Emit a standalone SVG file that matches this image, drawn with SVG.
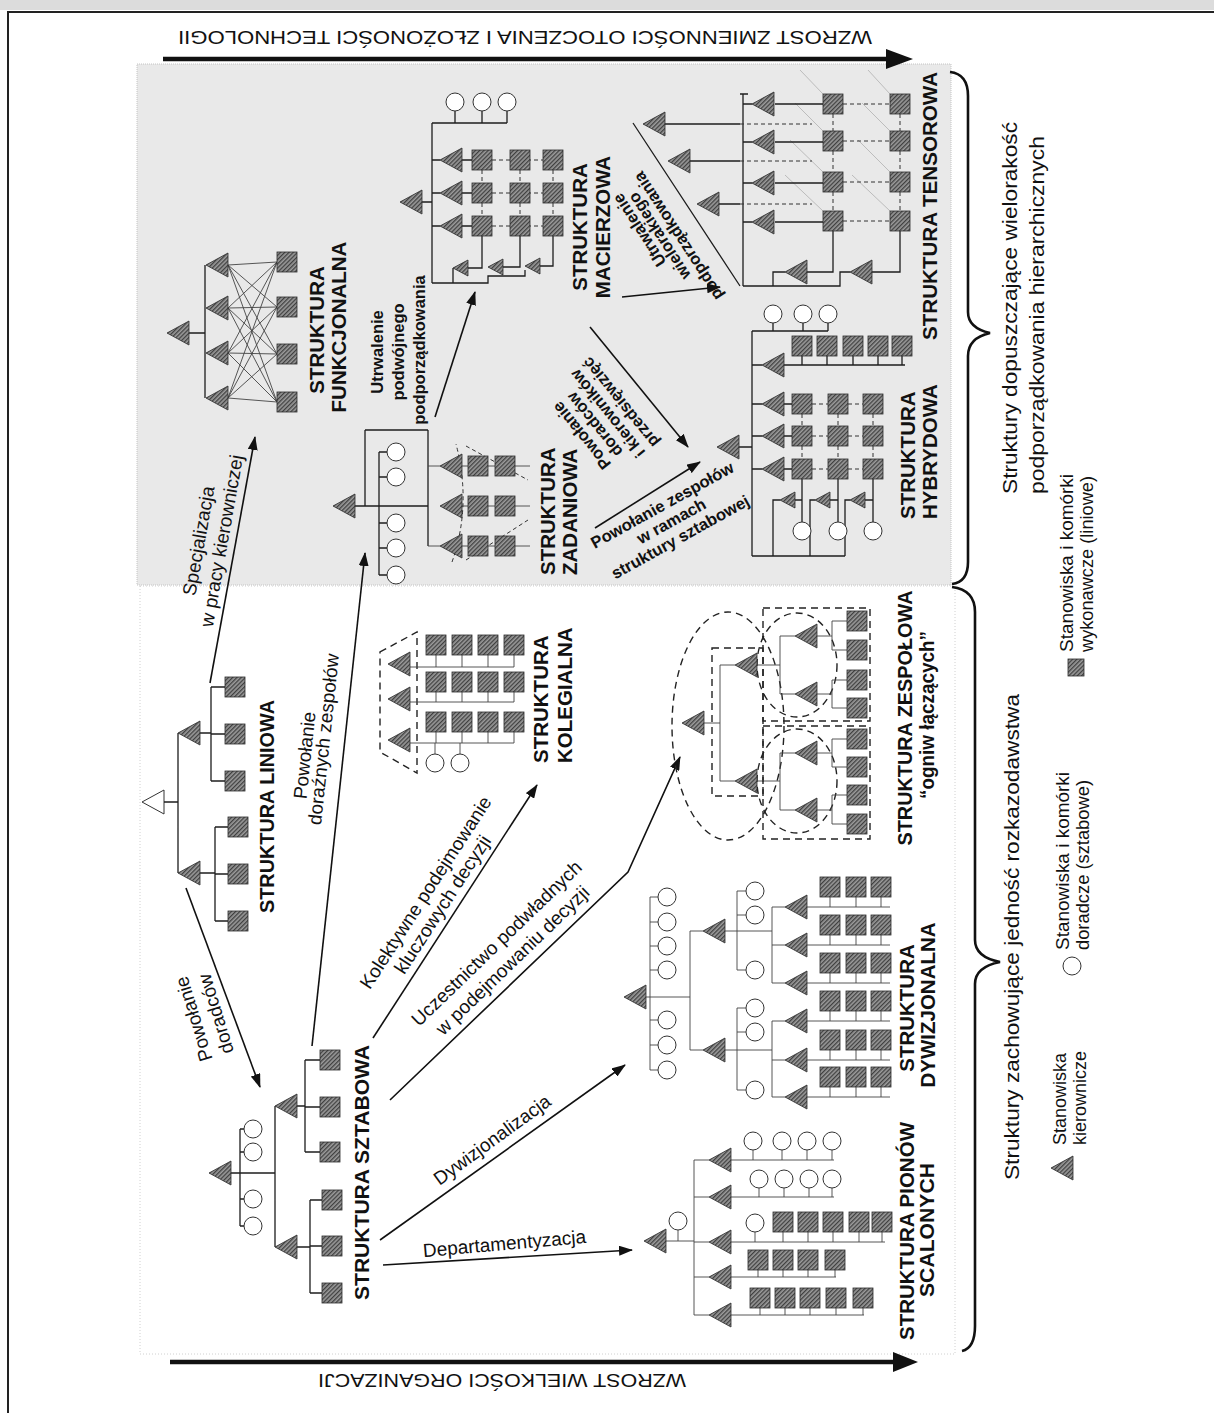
<svg xmlns="http://www.w3.org/2000/svg" width="1214" height="1413" viewBox="0 0 1214 1413">
<style>
.f{fill:url(#hp);stroke:#2b2b2b;stroke-width:0.8}
.c{fill:#fff;stroke:#333;stroke-width:1}
.l{fill:none;stroke:#1e1e1e;stroke-width:1.3}
.lt{fill:none;stroke:#444;stroke-width:0.9}
.d{fill:none;stroke:#222;stroke-width:1.4;stroke-dasharray:7 5}
.dd{fill:none;stroke:#333;stroke-width:1;stroke-dasharray:4 3}
.a{fill:none;stroke:#111;stroke-width:1.6}
.tb{font-family:"Liberation Sans",Arial,sans-serif;font-weight:bold;font-size:20.5px;fill:#111}
.tl{font-family:"Liberation Sans",Arial,sans-serif;font-size:19px;fill:#111}
.tlb{font-family:"Liberation Sans",Arial,sans-serif;font-size:16.5px;font-weight:bold;fill:#111}
.tn{font-family:"Liberation Sans",Arial,sans-serif;font-size:18px;fill:#111}
.ts{font-family:"Liberation Sans",Arial,sans-serif;font-size:20px;fill:#111}
.tg{font-family:"Liberation Sans",Arial,sans-serif;font-size:18px;fill:#111}
</style>
<defs>
<pattern id="hp" patternUnits="userSpaceOnUse" width="3" height="3" patternTransform="rotate(45)"><rect width="3" height="3" fill="#9a9a9a"/><rect width="1.3" height="3" fill="#404040"/></pattern>
<path id="T" class="f" d="M0,0 L22,-12 L22,12 Z"/>
<path id="t" class="f" d="M0,0 L15,-8 L15,8 Z"/>
<rect id="S" class="f" x="-10" y="-10" width="20" height="20"/>
<circle id="C" class="c" r="9"/>
<marker id="ar" markerUnits="userSpaceOnUse" viewBox="0 0 14 10" refX="13" refY="5" markerWidth="14" markerHeight="10" orient="auto"><path d="M0,0 L14,5 L0,10 Z" fill="#111"/></marker>
</defs>

<rect x="0" y="0" width="1214" height="1413" fill="#fff"/>
<rect x="0" y="0" width="1214" height="10" fill="#dcdcdc"/>
<path d="M8,1413 V12 H1214" fill="none" stroke="#222" stroke-width="2"/>
<rect x="137" y="64" width="814" height="521" fill="#e9e9e9" stroke="#c4c4c4" stroke-dasharray="1 1"/>
<rect x="140" y="586" width="815" height="768" fill="none" stroke="#d0d0d0" stroke-dasharray="1 2"/>

<g id="axis-top">
<line x1="163" y1="59" x2="890" y2="59" stroke="#111" stroke-width="4.5"/>
<path d="M913,59 L886,49 L886,69 Z" fill="#111"/>
<text class="tn" transform="rotate(180 525 37)" x="525" y="43" text-anchor="middle" textLength="694" lengthAdjust="spacingAndGlyphs">WZROST ZMIENNOŚCI OTOCZENIA I ZŁOŻONOŚCI TECHNOLOGII</text>
</g>
<g id="axis-bottom">
<line x1="170" y1="1362" x2="896" y2="1362" stroke="#111" stroke-width="4.5"/>
<path d="M918,1362 L893,1352 L893,1372 Z" fill="#111"/>
<text class="tn" transform="rotate(180 502 1380)" x="502" y="1386" text-anchor="middle" textLength="368" lengthAdjust="spacingAndGlyphs">WZROST WIELKOŚCI ORGANIZACJI</text>
</g>

<g id="braces" fill="none" stroke="#111" stroke-width="2.6">
<path d="M950,72 Q968,74 968,96 L968,312 Q968,328 990,333 Q968,338 968,356 L968,562 Q968,582 952,584"/>
<path d="M952,587 Q975,590 975,612 L975,940 Q975,957 1000,962 Q975,967 975,984 L975,1326 Q975,1348 962,1351"/>
</g>

<g id="side-labels">
<text class="ts" transform="translate(1017,494) rotate(-90)" textLength="372" lengthAdjust="spacingAndGlyphs">Struktury dopuszczające wielorakość</text>
<text class="ts" transform="translate(1044,494) rotate(-90)" textLength="358" lengthAdjust="spacingAndGlyphs">podporządkowania hierarchicznych</text>
<text class="ts" transform="translate(1019,1180) rotate(-90)" textLength="486" lengthAdjust="spacingAndGlyphs">Struktury zachowujące jedność rozkazodawstwa</text>
</g>

<g id="legend">
<use href="#T" x="1051" y="1168"/>
<text class="tg" transform="translate(1066,1145) rotate(-90)">Stanowiska</text>
<text class="tg" transform="translate(1086,1145) rotate(-90)">kierownicze</text>
<use href="#C" x="1072" y="966"/>
<text class="tg" transform="translate(1069,950) rotate(-90)" textLength="178" lengthAdjust="spacingAndGlyphs">Stanowiska i komórki</text>
<text class="tg" transform="translate(1089,950) rotate(-90)" textLength="170" lengthAdjust="spacingAndGlyphs">doradcze (sztabowe)</text>
<rect class="f" x="1068" y="659" width="16" height="17"/>
<text class="tg" transform="translate(1073,652) rotate(-90)" textLength="178" lengthAdjust="spacingAndGlyphs">Stanowiska i komórki</text>
<text class="tg" transform="translate(1093,652) rotate(-90)" textLength="176" lengthAdjust="spacingAndGlyphs">wykonawcze (liniowe)</text>
</g>

<g id="connectors" class="a" marker-end="url(#ar)">
<path d="M186,888 L260,1087"/>
<path d="M312,1046 L365,553"/>
<path d="M210,683 L255,437"/>
<path d="M373,1038 L537,785"/>
<path d="M390,1100 L628,872 L680,757"/>
<path d="M380,1240 L625,1065"/>
<path d="M383,1265 L632,1250"/>
<path d="M435,417 L475,292"/>
<path d="M590,327 L688,447"/>
<path d="M595,528 L700,462"/>
<path d="M622,297 L720,287"/>
</g>

<g id="connector-labels">
<text class="tl" text-anchor="middle" transform="translate(200,1017) rotate(-107)">Powołanie</text>
<text class="tl" text-anchor="middle" transform="translate(222,1012) rotate(-107)">doradców</text>
<text class="tl" text-anchor="middle" transform="translate(311,756) rotate(-84)">Powołanie</text>
<text class="tl" text-anchor="middle" transform="translate(330,740) rotate(-84)">doraźnych zespołów</text>
<text class="tl" text-anchor="middle" transform="translate(205,542) rotate(-80)">Specjalizacja</text>
<text class="tl" text-anchor="middle" transform="translate(228,542) rotate(-80)">w pracy kierowniczej</text>
<text class="tl" text-anchor="middle" transform="translate(431,896) rotate(-57)">Kolektywne podejmowanie</text>
<text class="tl" text-anchor="middle" transform="translate(448,908) rotate(-57)">kluczowych decyzji</text>
<text class="tl" text-anchor="middle" transform="translate(501,948) rotate(-44)">Uczestnictwo podwładnych</text>
<text class="tl" text-anchor="middle" transform="translate(517,965) rotate(-44)">w podejmowaniu decyzji</text>
<text class="tl" text-anchor="middle" transform="translate(496,1145) rotate(-36)">Dywizjonalizacja</text>
<text class="tl" text-anchor="middle" transform="translate(505,1250) rotate(-5)">Departamentyzacja</text>
<text class="tlb" text-anchor="middle" transform="translate(383,352) rotate(-90)">Utrwalenie</text>
<text class="tlb" text-anchor="middle" transform="translate(404,352) rotate(-90)">podwójnego</text>
<text class="tlb" text-anchor="middle" transform="translate(425,350) rotate(-90)">podporządkowania</text>
<text class="tlb" text-anchor="middle" transform="translate(586,432) rotate(-129)">Powołanie</text>
<text class="tlb" text-anchor="middle" transform="translate(599,421) rotate(-129)">doradców</text>
<text class="tlb" text-anchor="middle" transform="translate(612,410) rotate(-129)">i kierowników</text>
<text class="tlb" text-anchor="middle" transform="translate(625,399) rotate(-129)">przedsięwzięć</text>
<text class="tlb" text-anchor="middle" transform="translate(665,510) rotate(-29)">Powołanie zespołów</text>
<text class="tlb" text-anchor="middle" transform="translate(674,526) rotate(-29)">w ramach</text>
<text class="tlb" text-anchor="middle" transform="translate(683,542) rotate(-29)">struktury sztabowej</text>
<text class="tlb" text-anchor="middle" transform="translate(644,227) rotate(-123)">Utrwalenie</text>
<text class="tlb" text-anchor="middle" transform="translate(664,233) rotate(-123)">wielorakiego</text>
<text class="tlb" text-anchor="middle" transform="translate(683,233) rotate(-123)">podporządkowania</text>
</g>

<g id="liniowa">
<path d="M142,802 L164,790 L164,814 Z" fill="#fff" stroke="#333"/>
<path class="l" d="M164,802 H178 M178,733 V873 M200,733 H211 M211,687 V781 M211,687 H225 M211,734 H225 M211,781 H225 M200,873 H215 M215,827 V921 M215,827 H228 M215,874 H228 M215,921 H228"/>
<use href="#T" x="178" y="733"/><use href="#T" x="178" y="873"/>
<use href="#S" x="235" y="687"/><use href="#S" x="235" y="734"/><use href="#S" x="235" y="781"/>
<use href="#S" x="238" y="827"/><use href="#S" x="238" y="874"/><use href="#S" x="238" y="921"/>
<text class="tb" transform="translate(274,913) rotate(-90)" textLength="213" lengthAdjust="spacingAndGlyphs">STRUKTURA LINIOWA</text>
</g>

<g id="sztabowa">
<path class="l" d="M231,1173 H275 M240,1129 V1226 M240,1129 H244 M240,1152 H244 M240,1199 H244 M240,1226 H244 M275,1106 V1247 M297,1106 H305 M305,1060 V1152 M305,1060 H320 M305,1107 H320 M305,1152 H320 M297,1247 H310 M310,1200 V1293 M310,1200 H322 M310,1246 H322 M310,1293 H322"/>
<use href="#T" x="209" y="1173"/>
<use href="#C" x="253" y="1129"/><use href="#C" x="253" y="1152"/><use href="#C" x="253" y="1199"/><use href="#C" x="253" y="1226"/>
<use href="#T" x="275" y="1106"/><use href="#T" x="275" y="1247"/>
<use href="#S" x="330" y="1060"/><use href="#S" x="330" y="1107"/><use href="#S" x="330" y="1152"/>
<use href="#S" x="332" y="1200"/><use href="#S" x="332" y="1246"/><use href="#S" x="332" y="1293"/>
<text class="tb" transform="translate(369,1300) rotate(-90)" textLength="255" lengthAdjust="spacingAndGlyphs">STRUKTURA SZTABOWA</text>
</g>

<g id="pionow-scalonych">
<path class="lt" d="M666,1241 H694 M678,1230 V1241 M694,1160 V1315 M694,1160 H709 M694,1197 H709 M694,1242 H709 M694,1277 H709 M694,1315 H709"/>
<path class="lt" d="M731,1160 H834 M753,1150 V1160 M782,1150 V1160 M807,1150 V1160 M832,1150 V1160 M731,1197 H834 M759,1188 V1197 M784,1188 V1197 M809,1188 V1197 M832,1188 V1197 M731,1242 H885 M755,1232 V1242 M783,1232 V1242 M808,1232 V1242 M833,1232 V1242 M859,1232 V1242 M882,1232 V1242 M731,1277 H836 M758,1270 V1277 M783,1270 V1277 M808,1270 V1277 M835,1270 V1277 M731,1315 H864 M760,1308 V1315 M785,1308 V1315 M810,1308 V1315 M836,1308 V1315 M863,1308 V1315"/>
<use href="#T" x="644" y="1241"/><use href="#C" x="678" y="1221"/>
<use href="#T" x="709" y="1160"/><use href="#T" x="709" y="1197"/><use href="#T" x="709" y="1242"/><use href="#T" x="709" y="1277"/><use href="#T" x="709" y="1315"/>
<use href="#C" x="753" y="1141"/><use href="#C" x="782" y="1141"/><use href="#C" x="807" y="1141"/><use href="#C" x="832" y="1141"/>
<use href="#C" x="759" y="1179"/><use href="#C" x="784" y="1179"/><use href="#C" x="809" y="1179"/><use href="#C" x="832" y="1179"/>
<use href="#C" x="755" y="1223"/><use href="#S" x="783" y="1222"/><use href="#S" x="808" y="1222"/><use href="#S" x="833" y="1222"/><use href="#S" x="859" y="1222"/><use href="#S" x="882" y="1222"/>
<use href="#S" x="758" y="1260"/><use href="#S" x="783" y="1260"/><use href="#S" x="808" y="1260"/><use href="#S" x="835" y="1260"/>
<use href="#S" x="760" y="1298"/><use href="#S" x="785" y="1298"/><use href="#S" x="810" y="1298"/><use href="#S" x="836" y="1298"/><use href="#S" x="863" y="1298"/>
<text class="tb" text-anchor="middle" transform="translate(914,1231) rotate(-90)" textLength="218" lengthAdjust="spacingAndGlyphs">STRUKTURA PIONÓW</text>
<text class="tb" text-anchor="middle" transform="translate(934,1230) rotate(-90)" textLength="134" lengthAdjust="spacingAndGlyphs">SCALONYCH</text>
</g>

<g id="dywizjonalna">
<path class="lt" d="M644,997 H690 M650,897 V1070 M650,897 H658 M650,922 H658 M650,946 H658 M650,970 H658 M650,1020 H658 M650,1045 H658 M650,1070 H658 M690,931 V1050 M690,931 H703 M690,1050 H703"/>
<path class="lt" d="M725,931 H772 M737,891 V970 M737,891 H746 M737,915 H746 M737,970 H746 M772,907 V983 M772,907 H785 M772,945 H785 M772,983 H785"/>
<path class="lt" d="M725,1050 H772 M737,1008 V1090 M737,1008 H746 M737,1032 H746 M737,1090 H746 M772,1021 V1097 M772,1021 H785 M772,1060 H785 M772,1097 H785"/>
<path class="lt" d="M807,907 H890 M807,945 H890 M807,983 H890 M807,1021 H890 M807,1060 H890 M807,1097 H890 M830,897 V907 M856,897 V907 M881,897 V907 M830,935 V945 M856,935 V945 M881,935 V945 M830,973 V983 M856,973 V983 M881,973 V983 M830,1011 V1021 M856,1011 V1021 M881,1011 V1021 M830,1050 V1060 M856,1050 V1060 M881,1050 V1060 M830,1087 V1097 M856,1087 V1097 M881,1087 V1097"/>
<use href="#T" x="624" y="997"/>
<use href="#C" x="667" y="897"/><use href="#C" x="667" y="922"/><use href="#C" x="667" y="946"/><use href="#C" x="667" y="970"/><use href="#C" x="667" y="1020"/><use href="#C" x="667" y="1045"/><use href="#C" x="667" y="1070"/>
<use href="#T" x="703" y="931"/><use href="#T" x="703" y="1050"/>
<use href="#C" x="755" y="891"/><use href="#C" x="755" y="915"/><use href="#C" x="755" y="970"/>
<use href="#C" x="755" y="1008"/><use href="#C" x="755" y="1032"/><use href="#C" x="755" y="1090"/>
<use href="#T" x="785" y="907"/><use href="#T" x="785" y="945"/><use href="#T" x="785" y="983"/>
<use href="#T" x="785" y="1021"/><use href="#T" x="785" y="1060"/><use href="#T" x="785" y="1097"/>
<use href="#S" x="830" y="887"/><use href="#S" x="856" y="887"/><use href="#S" x="881" y="887"/>
<use href="#S" x="830" y="925"/><use href="#S" x="856" y="925"/><use href="#S" x="881" y="925"/>
<use href="#S" x="830" y="963"/><use href="#S" x="856" y="963"/><use href="#S" x="881" y="963"/>
<use href="#S" x="830" y="1001"/><use href="#S" x="856" y="1001"/><use href="#S" x="881" y="1001"/>
<use href="#S" x="830" y="1040"/><use href="#S" x="856" y="1040"/><use href="#S" x="881" y="1040"/>
<use href="#S" x="830" y="1077"/><use href="#S" x="856" y="1077"/><use href="#S" x="881" y="1077"/>
<text class="tb" text-anchor="middle" transform="translate(914,1008) rotate(-90)">STRUKTURA</text>
<text class="tb" text-anchor="middle" transform="translate(935,1005) rotate(-90)">DYWIZJONALNA</text>
</g>

<g id="kolegialna">
<path class="d" d="M380,652 L417,632 L417,773 L380,752 Z"/>
<path class="lt" d="M410,667 H514 M410,702 H514 M410,743 H514 M436,655 V667 M462,655 V667 M488,655 V667 M514,655 V667 M436,692 V702 M462,692 V702 M488,692 V702 M514,692 V702 M436,732 V743 M462,732 V743 M488,732 V743 M514,732 V743 M435,743 V754 M460,743 V754"/>
<use href="#T" x="388" y="664"/><use href="#T" x="388" y="699"/><use href="#T" x="388" y="740"/>
<use href="#S" x="436" y="645"/><use href="#S" x="462" y="645"/><use href="#S" x="488" y="645"/><use href="#S" x="514" y="645"/>
<use href="#S" x="436" y="682"/><use href="#S" x="462" y="682"/><use href="#S" x="488" y="682"/><use href="#S" x="514" y="682"/>
<use href="#S" x="436" y="722"/><use href="#S" x="462" y="722"/><use href="#S" x="488" y="722"/><use href="#S" x="514" y="722"/>
<use href="#C" x="435" y="763"/><use href="#C" x="460" y="763"/>
<text class="tb" transform="translate(548,763) rotate(-90)">STRUKTURA</text>
<text class="tb" transform="translate(572,763) rotate(-90)">KOLEGIALNA</text>
</g>

<g id="zespolowa">
<ellipse class="d" cx="728" cy="726" rx="56" ry="114"/>
<rect class="d" x="712" y="648" width="51" height="148"/>
<rect class="d" x="763" y="608" width="107" height="113"/>
<rect class="d" x="763" y="726" width="107" height="113"/>
<ellipse class="d" cx="797" cy="665" rx="40" ry="52"/>
<ellipse class="d" cx="797" cy="781" rx="40" ry="52"/>
<path class="lt" d="M703,723 H720 M720,665 V781 M720,665 H735 M720,781 H735 M757,665 H780 M780,636 V694 M757,781 H780 M780,753 V810 M780,636 H795 M780,694 H795 M780,753 H795 M780,810 H795 M817,636 H832 M832,621 V650 M832,621 H847 M832,650 H847 M817,694 H832 M832,680 V708 M832,680 H847 M832,708 H847 M817,753 H832 M832,739 V767 M832,739 H847 M832,767 H847 M817,810 H832 M832,795 V824 M832,795 H847 M832,824 H847"/>
<use href="#T" x="682" y="723"/>
<use href="#T" x="735" y="665"/><use href="#T" x="735" y="781"/>
<use href="#T" x="795" y="636"/><use href="#T" x="795" y="694"/><use href="#T" x="795" y="753"/><use href="#T" x="795" y="810"/>
<use href="#S" x="857" y="621"/><use href="#S" x="857" y="650"/><use href="#S" x="857" y="680"/><use href="#S" x="857" y="708"/>
<use href="#S" x="857" y="739"/><use href="#S" x="857" y="767"/><use href="#S" x="857" y="795"/><use href="#S" x="857" y="824"/>
<text class="tb" text-anchor="middle" transform="translate(912,718) rotate(-90)" textLength="255" lengthAdjust="spacingAndGlyphs">STRUKTURA ZESPOŁOWA</text>
<text class="tb" text-anchor="middle" transform="translate(934,715) rotate(-90)" textLength="168" lengthAdjust="spacingAndGlyphs">“ogniw łączących”</text>
</g>

<g id="funkcjonalna">
<path class="l" d="M188,333 H205 M205,265 V398"/>
<path class="lt" d="M228,265 L277,262 M228,265 L277,307 M228,265 L277,354 M228,265 L277,402 M228,308 L277,262 M228,308 L277,307 M228,308 L277,354 M228,308 L277,402 M228,353 L277,262 M228,353 L277,307 M228,353 L277,354 M228,353 L277,402 M228,398 L277,262 M228,398 L277,307 M228,398 L277,354 M228,398 L277,402"/>
<use href="#T" x="167" y="333"/>
<use href="#T" x="206" y="265"/><use href="#T" x="206" y="308"/><use href="#T" x="206" y="353"/><use href="#T" x="206" y="398"/>
<use href="#S" x="287" y="262"/><use href="#S" x="287" y="307"/><use href="#S" x="287" y="354"/><use href="#S" x="287" y="402"/>
<text class="tb" text-anchor="middle" transform="translate(324,330) rotate(-90)">STRUKTURA</text>
<text class="tb" text-anchor="middle" transform="translate(346,327) rotate(-90)">FUNKCJONALNA</text>
</g>

<g id="zadaniowa">
<path class="l" d="M355,506 H428 M365,430 V506 M365,430 H428 M428,430 V546 M379,452 V575 M379,452 H387 M379,477 H387 M379,523 H387 M379,548 H387 M379,575 H387"/>
<path class="lt" d="M428,466 H440 M428,546 H440 M462,466 H530 M462,506 H530 M462,546 H530"/>
<path class="dd" d="M452,562 Q472,505 456,444 M466,446 L528,480 M466,560 L528,520"/>
<use href="#T" x="333" y="506"/>
<use href="#C" x="396" y="452"/><use href="#C" x="396" y="477"/><use href="#C" x="396" y="523"/><use href="#C" x="396" y="548"/><use href="#C" x="396" y="575"/>
<use href="#T" x="440" y="466"/><use href="#T" x="440" y="506"/><use href="#T" x="440" y="546"/>
<use href="#S" x="478" y="466"/><use href="#S" x="505" y="466"/><use href="#S" x="478" y="506"/><use href="#S" x="505" y="506"/><use href="#S" x="478" y="546"/><use href="#S" x="505" y="546"/>
<text class="tb" transform="translate(555,575) rotate(-90)">STRUKTURA</text>
<text class="tb" transform="translate(577,575) rotate(-90)">ZADANIOWA</text>
</g>

<g id="macierzowa">
<path class="l" d="M432,123 H507 M455,111 V123 M482,111 V123 M507,111 V123 M432,123 V283 M422,202 H432 M432,160 H440 M432,193 H440 M432,226 H440 M462,160 H472 M462,193 H472 M462,226 H472 M432,283 H488 V276 H525 V270 M453,283 V268 M468,268 H482 V236 M503,267 H520 V236 M540,266 H553 V236"/>
<path class="dd" d="M492,160 H543 M492,193 H543 M492,226 H543 M482,170 V183 M482,203 V216 M520,170 V183 M520,203 V216 M553,170 V183 M553,203 V216"/>
<use href="#C" x="455" y="102"/><use href="#C" x="482" y="102"/><use href="#C" x="507" y="102"/>
<use href="#T" x="400" y="202"/>
<use href="#T" x="440" y="160"/><use href="#T" x="440" y="193"/><use href="#T" x="440" y="226"/>
<use href="#S" x="482" y="160"/><use href="#S" x="520" y="160"/><use href="#S" x="553" y="160"/>
<use href="#S" x="482" y="193"/><use href="#S" x="520" y="193"/><use href="#S" x="553" y="193"/>
<use href="#S" x="482" y="226"/><use href="#S" x="520" y="226"/><use href="#S" x="553" y="226"/>
<use href="#t" x="453" y="268"/><use href="#t" x="488" y="267"/><use href="#t" x="525" y="266"/>
<text class="tb" text-anchor="middle" transform="translate(587,227) rotate(-90)">STRUKTURA</text>
<text class="tb" text-anchor="middle" transform="translate(610,227) rotate(-90)">MACIERZOWA</text>
</g>

<g id="tensorowa">
<path d="M823,94 L800,70 M890,94 L868,70 M823,131 L795,103 M890,131 L862,103 M823,172 L790,140 M890,172 L858,140 M823,211 L785,175 M890,211 L852,175" fill="none" stroke="#b0b0b0" stroke-width="0.8"/>
<path class="l" d="M633,123 L740,286 M740,94 H748 M743,94 V286 M743,104 H752 M743,142 H752 M743,183 H752 M743,222 H752 M775,104 H823 M775,142 H823 M775,183 H823 M775,222 H823 M743,286 H773 V272 H785 M773,286 H840 V272 H850 M807,272 H833 V231 M872,272 H900 V231 M665,124 H740 M690,161 H740 M719,204 H740"/>
<path class="dd" d="M740,124 H812 M740,161 H812 M740,204 H812 M843,104 H890 M843,141 H890 M843,182 H890 M843,221 H890 M833,114 V131 M833,151 V172 M833,192 V211 M900,114 V131 M900,151 V172 M900,192 V211"/>
<use href="#T" x="643" y="124"/><use href="#T" x="668" y="161"/><use href="#T" x="697" y="204"/>
<use href="#T" x="752" y="104"/><use href="#T" x="752" y="142"/><use href="#T" x="752" y="183"/><use href="#T" x="752" y="222"/>
<use href="#S" x="833" y="104"/><use href="#S" x="900" y="104"/><use href="#S" x="833" y="141"/><use href="#S" x="900" y="141"/>
<use href="#S" x="833" y="182"/><use href="#S" x="900" y="182"/><use href="#S" x="833" y="221"/><use href="#S" x="900" y="221"/>
<use href="#T" x="785" y="272"/><use href="#T" x="850" y="272"/>
<text class="tb" transform="translate(937,340) rotate(-90)" textLength="268" lengthAdjust="spacingAndGlyphs">STRUKTURA TENSOROWA</text>
</g>

<g id="hybrydowa">
<path class="l" d="M739,447 H752 M752,331 V556 M752,331 H828 M773,323 V331 M803,323 V331 M828,323 V331 M752,365 H762 M784,365 H905 M802,356 V365 M827,356 V365 M853,356 V365 M878,356 V365 M902,356 V365 M752,404 H762 M752,436 H762 M752,469 H762 M784,404 H792 M784,436 H792 M784,469 H792 M802,479 V522 M838,479 V522 M873,479 V522 M752,556 H845 M773,556 V500 H780 M810,556 V500 H815 M845,556 V500 H850 M795,500 H802 M830,500 H838 M865,500 H873"/>
<path class="dd" d="M812,404 H828 M848,404 H863 M812,436 H828 M848,436 H863 M812,469 H828 M848,469 H863 M802,414 V426 M802,446 V459 M838,414 V426 M838,446 V459 M873,414 V426 M873,446 V459"/>
<use href="#C" x="773" y="314"/><use href="#C" x="803" y="314"/><use href="#C" x="828" y="314"/>
<use href="#T" x="717" y="447"/>
<use href="#T" x="762" y="365"/>
<use href="#S" x="802" y="346"/><use href="#S" x="827" y="346"/><use href="#S" x="853" y="346"/><use href="#S" x="878" y="346"/><use href="#S" x="902" y="346"/>
<use href="#T" x="762" y="404"/><use href="#T" x="762" y="436"/><use href="#T" x="762" y="469"/>
<use href="#S" x="802" y="404"/><use href="#S" x="838" y="404"/><use href="#S" x="873" y="404"/>
<use href="#S" x="802" y="436"/><use href="#S" x="838" y="436"/><use href="#S" x="873" y="436"/>
<use href="#S" x="802" y="469"/><use href="#S" x="838" y="469"/><use href="#S" x="873" y="469"/>
<use href="#t" x="780" y="500"/><use href="#t" x="815" y="500"/><use href="#t" x="850" y="500"/>
<use href="#C" x="802" y="531"/><use href="#C" x="838" y="531"/><use href="#C" x="873" y="531"/>
<text class="tb" transform="translate(915,519) rotate(-90)">STRUKTURA</text>
<text class="tb" transform="translate(937,519) rotate(-90)">HYBRYDOWA</text>
</g>
</svg>
